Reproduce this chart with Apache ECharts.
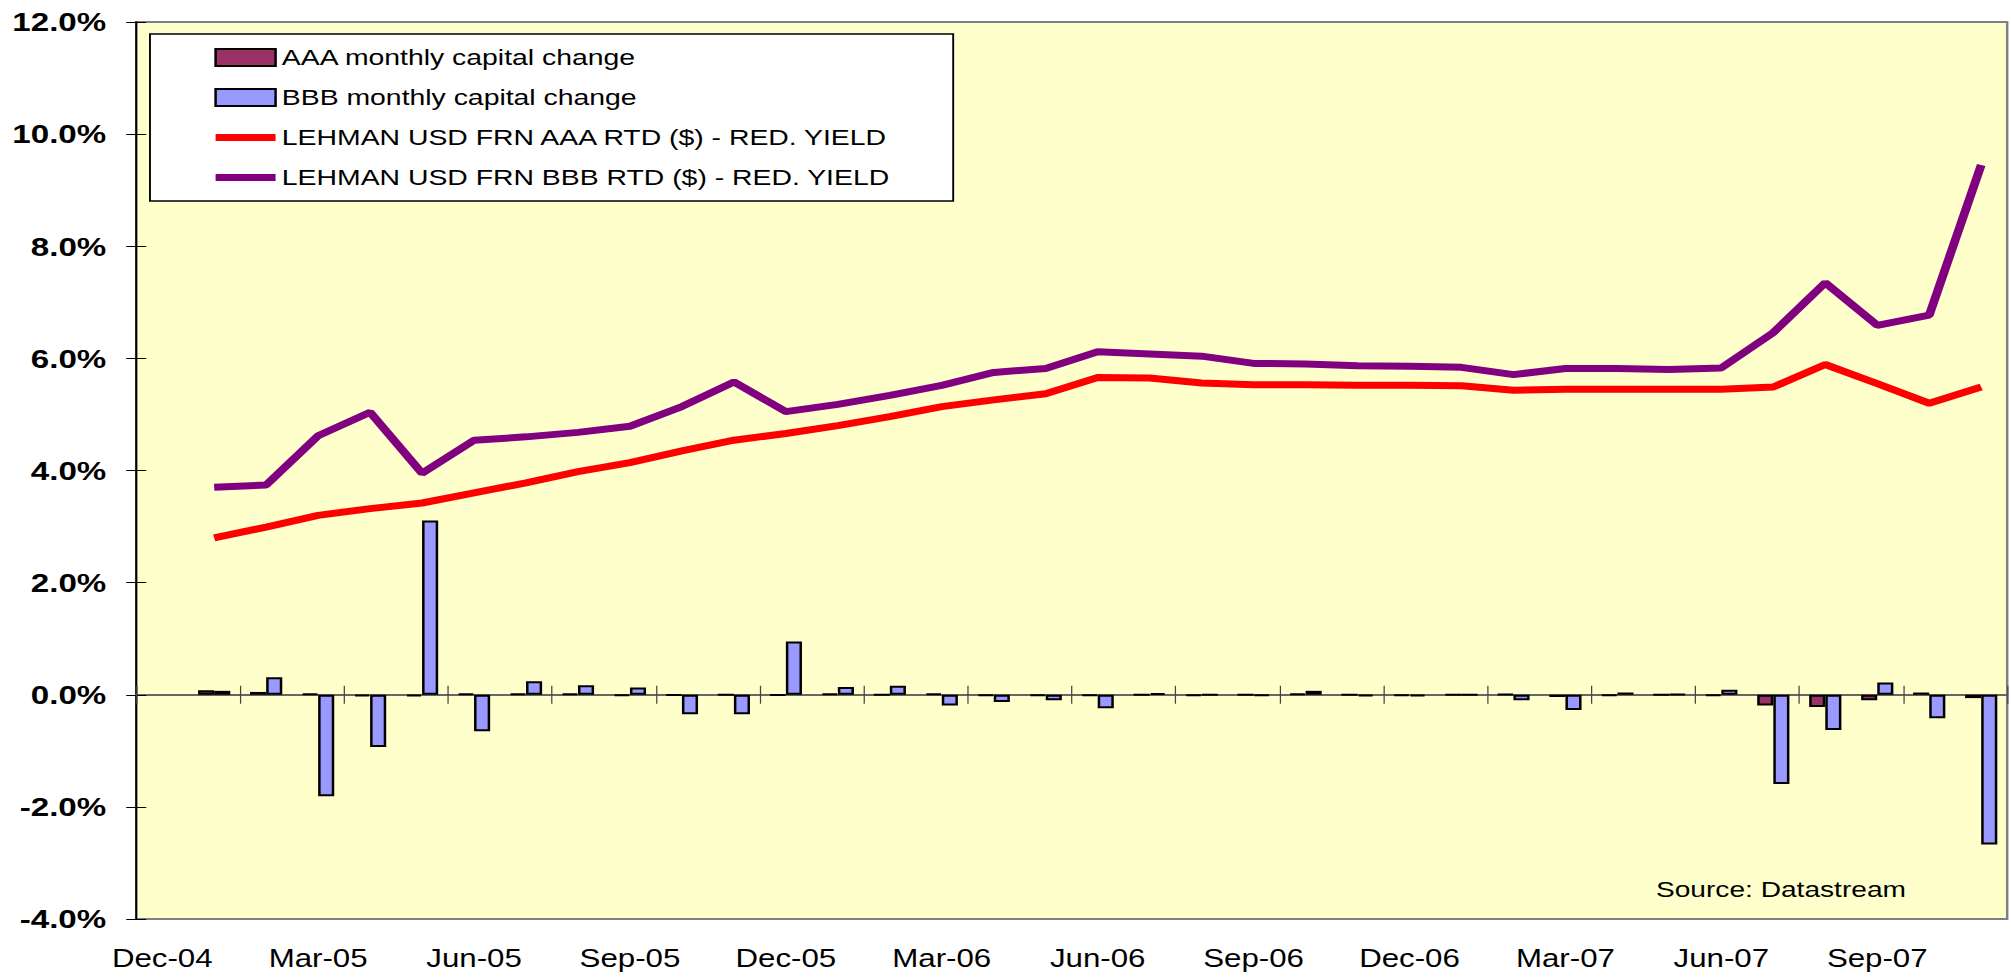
<!DOCTYPE html>
<html>
<head>
<meta charset="utf-8">
<title>Lehman USD FRN yields and monthly capital change</title>
<script src="https://cdn.jsdelivr.net/npm/echarts@6/dist/echarts.min.js"></script>
<style>
  html, body { margin: 0; padding: 0; background: #ffffff; overflow: hidden; }
  /* the original export is stretched sideways, so draw narrower and widen */
  #chart { width: 1609px; height: 977px; transform: scaleX(1.2498); transform-origin: 0 0; }
</style>
</head>
<body>
<div id="chart"></div>
<script>
// month categories, Dec-04 has no data
const months = [
  'Dec-04', 'Jan-05', 'Feb-05', 'Mar-05', 'Apr-05', 'May-05', 'Jun-05', 'Jul-05', 'Aug-05', 'Sep-05', 'Oct-05', 'Nov-05',
  'Dec-05', 'Jan-06', 'Feb-06', 'Mar-06', 'Apr-06', 'May-06', 'Jun-06', 'Jul-06', 'Aug-06', 'Sep-06', 'Oct-06', 'Nov-06',
  'Dec-06', 'Jan-07', 'Feb-07', 'Mar-07', 'Apr-07', 'May-07', 'Jun-07', 'Jul-07', 'Aug-07', 'Sep-07', 'Oct-07', 'Nov-07'
];

// monthly capital change, %
const aaaChange = [
  null, 0.08, 0.05, 0.02, -0.03, -0.03, 0.02, 0.02, 0.02, -0.02, -0.01, 0,
  -0.01, 0.02, 0, 0.02, -0.02, -0.02, -0.02, 0, -0.02, 0, 0.02, 0,
  -0.02, 0, 0.01, -0.04, -0.02, 0, -0.02, -0.19, -0.22, -0.10, 0.04, -0.06
];
const bbbChange = [
  null, 0.07, 0.31, -1.81, -0.93, 3.11, -0.65, 0.24, 0.17, 0.13, -0.35, -0.35,
  0.95, 0.14, 0.16, -0.19, -0.13, -0.10, -0.24, 0.03, 0, -0.02, 0.07, -0.03,
  -0.03, 0, -0.10, -0.27, 0.04, 0.01, 0.09, -1.59, -0.63, 0.22, -0.42, -2.67
];

// redemption yields, %
const aaaYield = [
  null, 2.80, 2.99, 3.20, 3.32, 3.42, 3.60, 3.78, 3.98, 4.14, 4.35, 4.54,
  4.66, 4.80, 4.96, 5.14, 5.26, 5.37, 5.66, 5.65, 5.56, 5.53, 5.53, 5.52,
  5.52, 5.51, 5.43, 5.45, 5.45, 5.45, 5.45, 5.49, 5.89, 5.55, 5.20, 5.49
];
const bbbYield = [
  null, 3.70, 3.74, 4.62, 5.04, 3.95, 4.54, 4.60, 4.68, 4.79, 5.14, 5.58,
  5.05, 5.18, 5.34, 5.52, 5.75, 5.82, 6.12, 6.08, 6.04, 5.91, 5.90, 5.87,
  5.86, 5.84, 5.71, 5.82, 5.82, 5.80, 5.83, 6.46, 7.35, 6.59, 6.77, 9.45
];

const seriesNames = [
  'AAA monthly capital change',
  'BBB monthly capital change',
  'LEHMAN USD FRN AAA RTD ($) - RED. YIELD',
  'LEHMAN USD FRN BBB RTD ($) - RED. YIELD'
];

const font = "'Liberation Sans', Arial, sans-serif";
const yMin = -4, yMax = 12, yStep = 2;

const chart = echarts.init(document.getElementById('chart'), null, { renderer: 'svg' });

const option = {
  animation: false,
  textStyle: { fontFamily: font, color: '#000' },
  grid: {
    left: 109, right: 3, top: 22, bottom: 58,
    show: true,
    backgroundColor: '#FFFFCC',
    borderColor: '#808080',
    borderWidth: 2
  },
  title: {
    text: 'Source: Datastream',
    left: 1325, top: 878,
    padding: 0,
    textStyle: { fontFamily: font, fontSize: 22.5, fontWeight: 'normal', color: '#000' }
  },
  legend: {
    orient: 'vertical',
    left: 120, top: 34,
    padding: [12, 51, 12, 49],
    itemGap: 17,
    itemWidth: 48,
    itemHeight: 17,
    backgroundColor: '#fff',
    borderColor: '#000',
    borderWidth: 1.5,
    borderRadius: 0,
    textStyle: { fontFamily: font, fontSize: 22.7, color: '#000' },
    data: [
      { name: seriesNames[0], icon: 'rect' },
      { name: seriesNames[1], icon: 'rect' },
      // line items: thick line, hide the marker dot
      { name: seriesNames[2], itemStyle: { opacity: 0 }, lineStyle: { width: 7, color: '#FF0000' } },
      { name: seriesNames[3], itemStyle: { opacity: 0 }, lineStyle: { width: 7, color: '#800080' } }
    ]
  },
  xAxis: [
    {
      // labels along the bottom of the plot
      type: 'category',
      data: months,
      position: 'bottom',
      axisLine: { show: false, onZero: false },
      axisTick: { show: false },
      axisLabel: { interval: 2, margin: 27, fontSize: 25, fontFamily: font, color: '#000' }
    },
    {
      // zero line with ticks below it
      type: 'category',
      data: months,
      position: 'bottom',
      axisLine: { show: true, onZero: true, onZeroAxisIndex: 0, lineStyle: { color: '#666', width: 2 } },
      axisTick: { show: true, length: 9, lineStyle: { color: '#444', width: 1 } },
      axisLabel: { show: false }
    },
    {
      // ticks above the zero line
      type: 'category',
      data: months,
      position: 'bottom',
      axisLine: { show: false, onZero: true, onZeroAxisIndex: 1 },
      axisTick: { show: true, inside: true, length: 9, lineStyle: { color: '#444', width: 1 } },
      axisLabel: { show: false }
    }
  ],
  yAxis: [
    {
      type: 'value',
      min: yMin, max: yMax, interval: yStep,
      position: 'left',
      splitLine: { show: false },
      axisLine: { show: true, lineStyle: { color: '#000', width: 1.5 } },
      axisTick: { show: true, length: 8, lineStyle: { color: '#000', width: 1 } },
      axisLabel: {
        margin: 24,
        fontSize: 26.5,
        fontWeight: 'bold',
        fontFamily: font,
        color: '#000',
        formatter: v => v.toFixed(1) + '%'
      }
    },
    {
      type: 'value',
      min: yMin, max: yMax, interval: yStep,
      position: 'left',
      splitLine: { show: false },
      axisLine: { show: false },
      axisTick: { show: true, inside: true, length: 8, lineStyle: { color: '#000', width: 1 } },
      axisLabel: { show: false }
    }
  ],
  series: [
    {
      name: seriesNames[0],
      type: 'bar',
      data: aaaChange,
      barWidth: '31%',
      barGap: '0%',
      itemStyle: { color: '#993366', borderColor: '#000', borderWidth: 2 }
    },
    {
      name: seriesNames[1],
      type: 'bar',
      data: bbbChange,
      barWidth: '31%',
      barGap: '0%',
      itemStyle: { color: '#9999FF', borderColor: '#000', borderWidth: 2 }
    },
    {
      name: seriesNames[2],
      type: 'line',
      data: aaaYield,
      symbol: 'none',
      z: 3,
      lineStyle: { color: '#FF0000', width: 7 },
      itemStyle: { color: '#FF0000' }
    },
    {
      name: seriesNames[3],
      type: 'line',
      data: bbbYield,
      symbol: 'none',
      z: 3,
      lineStyle: { color: '#800080', width: 7 },
      itemStyle: { color: '#800080' }
    }
  ]
};

chart.setOption(option);
</script>
</body>
</html>
